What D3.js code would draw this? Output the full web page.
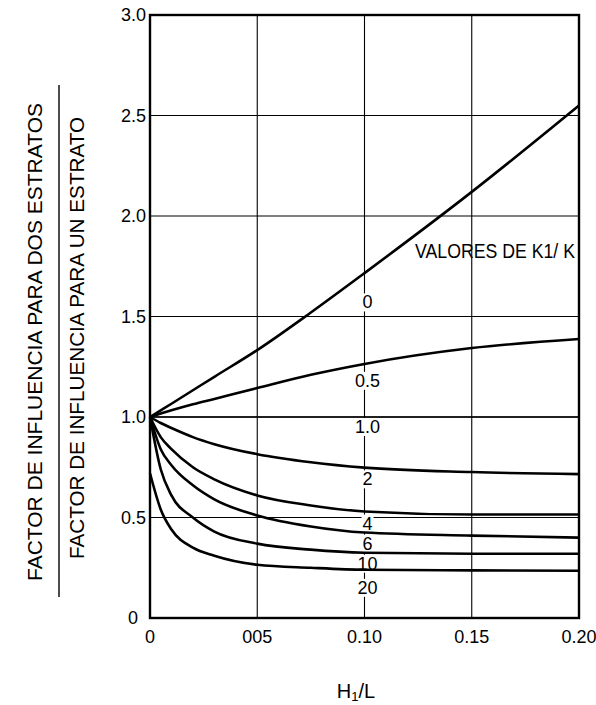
<!DOCTYPE html>
<html>
<head>
<meta charset="utf-8">
<script src="https://cdn.jsdelivr.net/npm/d3@7/dist/d3.min.js"></script>
<style>
  html, body { margin: 0; padding: 0; background: #fff; }
  svg { display: block; }
  text { font-family: "Liberation Sans", Arial, Helvetica, sans-serif; fill: #000; }
</style>
</head>
<body>
<svg id="chart" width="596" height="705"></svg>
<script>
// H1/L sample positions shared by every curve
const ratioH1L = [0, 0.005, 0.01, 0.02, 0.03, 0.05, 0.075, 0.10, 0.15, 0.20];

// Influence factor ratio for each K1/K value
const k0    = [1.00, 1.033, 1.066, 1.133, 1.20, 1.333, 1.52, 1.716, 2.12, 2.55];
const k0_5  = [1.00, 1.017, 1.033, 1.063, 1.09, 1.144, 1.21, 1.264, 1.343, 1.388];
const k1_0  = [1.00, 1.00, 1.00, 1.00, 1.00, 1.00, 1.00, 1.00, 1.00, 1.00];
const k2    = [1.00, 0.97, 0.945, 0.90, 0.865, 0.815, 0.775, 0.748, 0.726, 0.716];
const k4    = [1.00, 0.90, 0.84, 0.75, 0.69, 0.61, 0.56, 0.53, 0.515, 0.515];
const k6    = [1.00, 0.84, 0.76, 0.66, 0.59, 0.51, 0.455, 0.425, 0.41, 0.40];
const k10   = [1.00, 0.74, 0.61, 0.50, 0.43, 0.37, 0.34, 0.325, 0.32, 0.32];
const k20   = [0.72, 0.54, 0.44, 0.35, 0.31, 0.265, 0.25, 0.24, 0.237, 0.235];

const curveNames  = ["0", "0.5", "1.0", "2", "4", "6", "10", "20"];
const curveValues = [k0, k0_5, k1_0, k2, k4, k6, k10, k20];
// where each curve's name sits along the H1/L = 0.10 line (factor units)
const labelAt     = [1.57, 1.18, 0.95, 0.69, 0.47, 0.37, 0.27, 0.15];

const xTicks      = [0, 0.05, 0.10, 0.15, 0.20];
const xTickLabels = ["0", "005", "0.10", "0.15", "0.20"];
const yTicks      = [0, 0.5, 1.0, 1.5, 2.0, 2.5, 3.0];
const yTickLabels = ["0", "0.5", "1.0", "1.5", "2.0", "2.5", "3.0"];

const svg = d3.select("#chart");
const plotL = 150, plotR = 579, plotT = 15, plotB = 618;

const x = d3.scaleLinear().domain([0, 0.20]).range([plotL, plotR]);
const y = d3.scaleLinear().domain([0, 3.0]).range([plotB, plotT]);

// grid
const grid = svg.append("g").attr("stroke", "#000").attr("stroke-width", 1.1);
grid.selectAll("line.v").data(xTicks.slice(1, -1)).join("line")
  .attr("x1", d => x(d)).attr("x2", d => x(d))
  .attr("y1", plotT).attr("y2", plotB);
grid.selectAll("line.h").data(yTicks.slice(1, -1)).join("line")
  .attr("x1", plotL).attr("x2", plotR)
  .attr("y1", d => y(d)).attr("y2", d => y(d));

// curve names on the 0.10 line, knocked out of the grid
const lab = svg.append("g");
curveNames.forEach((name, i) => {
  const t = lab.append("text")
    .attr("x", x(0.10) + 3).attr("y", y(labelAt[i]))
    .attr("text-anchor", "middle").attr("dominant-baseline", "central")
    .attr("font-size", 18).text(name);
  const b = t.node().getBBox();
  lab.insert("rect", () => t.node())
    .attr("x", b.x - 1).attr("y", b.y + 1)
    .attr("width", b.width + 2).attr("height", b.height - 2)
    .attr("fill", "#fff");
});

// curves
const line = d3.line()
  .x((d, i) => x(ratioH1L[i]))
  .y(d => y(d))
  .curve(d3.curveMonotoneX);

svg.append("g").attr("fill", "none").attr("stroke", "#000")
  .selectAll("path").data(curveValues).join("path")
  .attr("stroke-width", (d, i) => curveNames[i] === "1.0" ? 1.3 : 2.6)
  .attr("stroke-linejoin", "round")
  .attr("d", line);

// frame
svg.append("rect")
  .attr("x", plotL).attr("y", plotT)
  .attr("width", plotR - plotL).attr("height", plotB - plotT)
  .attr("fill", "none").attr("stroke", "#000").attr("stroke-width", 2.4);

svg.append("text")
  .attr("x", 415).attr("y", y(1.79))
  .attr("font-size", 20).attr("textLength", 160).attr("lengthAdjust", "spacingAndGlyphs")
  .text("VALORES DE K1/ K");

// axis tick labels
svg.append("g").selectAll("text").data(xTicks).join("text")
  .attr("x", d => x(d)).attr("y", 643)
  .attr("text-anchor", "middle").attr("font-size", 18)
  .text((d, i) => xTickLabels[i]);

svg.append("g").selectAll("text").data(yTicks).join("text")
  .attr("x", d => d === 0 ? 138 : 146).attr("y", d => y(d) + 6)
  .attr("text-anchor", "end").attr("font-size", 18)
  .text((d, i) => yTickLabels[i]);

// x axis title
const xt = svg.append("text").attr("x", 356).attr("y", 698)
  .attr("text-anchor", "middle").attr("font-size", 20);
xt.append("tspan").text("H");
xt.append("tspan").attr("font-size", 13).attr("dy", 3).text("1");
xt.append("tspan").attr("dy", -3).text("/L");

// y axis title: ratio of the two influence factors
const cy = 342;
svg.append("text")
  .attr("transform", `translate(42,${cy}) rotate(-90)`)
  .attr("text-anchor", "middle").attr("font-size", 21)
  .text("FACTOR DE INFLUENCIA PARA DOS ESTRATOS");
svg.append("line")
  .attr("x1", 59).attr("x2", 59).attr("y1", 85).attr("y2", 597)
  .attr("stroke", "#000").attr("stroke-width", 1.4);
svg.append("text")
  .attr("transform", `translate(84,${cy - 4}) rotate(-90)`)
  .attr("text-anchor", "middle").attr("font-size", 20.7)
  .text("FACTOR DE INFLUENCIA PARA UN ESTRATO");
</script>
</body>
</html>
